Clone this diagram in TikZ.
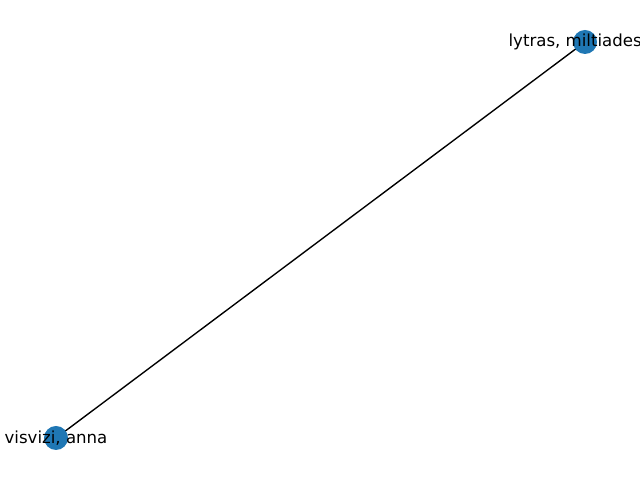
\documentclass[tikz,border=0pt]{standalone}
\usepackage{fontspec}
\setmainfont{DejaVu Sans}
\usetikzlibrary{positioning}
\definecolor{nxblue}{HTML}{1F77B4}
\tikzset{
  author/.style={circle,fill=nxblue,draw=none,minimum size=0.6cm,inner sep=0pt},
  authorlabel/.style={font=\fontsize{11.8}{14}\selectfont,text=black,inner sep=0pt},
  link/.style={draw=black,line width=0.98pt},
}
\begin{document}
\begin{tikzpicture}[x=0.025cm,y=0.025cm]
\useasboundingbox (0,0) rectangle (640,480);
\coordinate (lytras) at (585,438);
\coordinate (visvizi) at (56,42);
\draw[link] (lytras)--(visvizi);
\node[author] (lytrasdot) at (lytras) {};
\node[author] (visvizidot) at (visvizi) {};
\node[authorlabel] (lytrasname) at ([xshift=-7]lytras) {lytras, miltiades};
\node[authorlabel] (visviziname) at (visvizi) {visvizi, anna};
\end{tikzpicture}
\end{document}
